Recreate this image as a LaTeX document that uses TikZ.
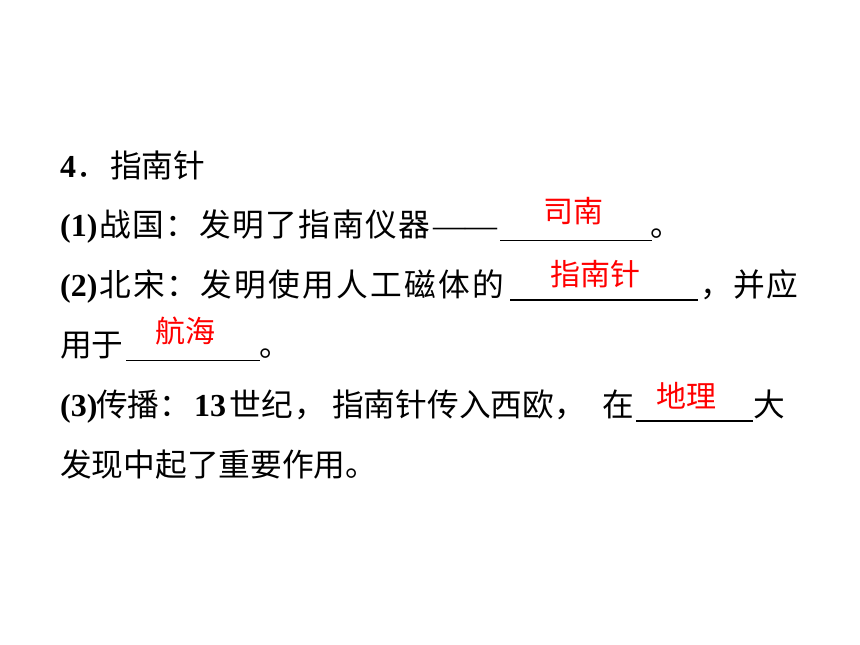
\documentclass[tikz,border=0pt]{standalone}
\usepackage{fontspec}
\newfontfamily\cjk{Noto Sans CJK SC}
\newfontfamily\tnr{Liberation Serif}
\makeatletter
\newcommand\lsp[2]{\@tfor\lsp@ch:=#2\do{\lsp@ch\hskip#1\relax}}
\makeatother
\definecolor{ansred}{RGB}{255,0,0}
\tikzset{
  txt/.style={anchor=base west, inner sep=0pt, font=\cjk\fontsize{31.7}{32}\selectfont},
  num/.style={anchor=base west, inner sep=0pt, font=\tnr\bfseries\fontsize{32}{32}\selectfont},
  ans/.style={anchor=center, inner sep=0pt, text=ansred, font=\cjk\fontsize{30}{30}\selectfont},
  blank/.style={line width=1.6pt, black}
}
\begin{document}
\begin{tikzpicture}[x=1pt,y=-1pt]
\useasboundingbox[fill=white] (0,0) rectangle (860,645);
% line 1
\node[num] (n4) at (60,177) {4};
\node[txt] (p1) at (76,177) {．};
\node[txt] (t1) at (110,177) {指南针};
% line 2
\node[num] (n1) at (60,236) {(1)};
\node[txt] (t2) at (99,236) {\lsp{1.6pt}{战国：发明了指南仪器}};
\node[anchor=base west, inner sep=0pt, font=\tnr\fontsize{32}{32}\selectfont] (d2) at (433,236) {——};
\coordinate (b2s) at (500,240.5);
\coordinate (b2e) at (652,240.5);
\draw[blank] (b2s) -- (b2e);
\node[txt] (e2) at (650,236) {。};
\node[ans] (a2) at (573,211) {司南};
% line 3
\node[num] (n2) at (60,296) {(2)};
\node[txt] (t3) at (99,296) {\lsp{2.2pt}{北宋：发明使用人工磁体的}};
\coordinate (b3s) at (510,300);
\coordinate (b3e) at (698,300);
\draw[blank] (b3s) -- (b3e);
\node[txt] (t3b) at (700,296) {\lsp{1.3pt}{，并应}};
\node[ans] (a3) at (595,274) {指南针};
% line 4
\node[txt] (t4) at (60,356) {用于};
\coordinate (b4s) at (126,360.5);
\coordinate (b4e) at (260,360.5);
\draw[blank] (b4s) -- (b4e);
\node[txt] (e4) at (259,356) {。};
\node[ans] (a4) at (185,331) {航海};
% line 5
\node[num] (n3) at (60,416) {(3)};
\node[txt] (t5a) at (96,416) {传播：};
\node[num] (n13) at (194,416) {13};
\node[txt] (t5b) at (229,416) {\lsp{1pt}{世纪，}};
\node[txt] (t5c) at (332,416) {指南针传入西欧，};
\node[txt] (t5d) at (602,416) {在};
\coordinate (b5s) at (636,421);
\coordinate (b5e) at (753,421);
\draw[blank] (b5s) -- (b5e);
\node[txt] (t5e) at (753,416) {大};
\node[ans] (a5) at (686,396) {地理};
% line 6
\node[txt] (t6) at (60,476) {发现中起了重要作用。};
\end{tikzpicture}
\end{document}
